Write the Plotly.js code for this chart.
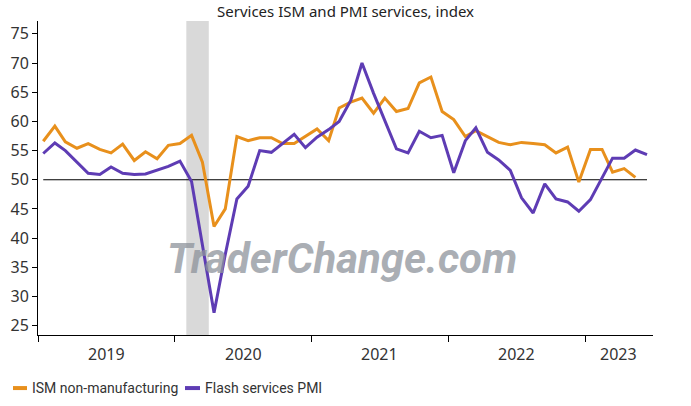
<!DOCTYPE html>
<html>
  <head>
    <title>Services ISM and PMI services</title>
    <meta http-equiv="content-type" content="text/html; charset=utf-8" />
    <style>
      body {
        margin: 0;
        background-color: #FFFFFF;
      }
      #chart {
        width: 691px;
        height: 406px;
      }
    </style>
    <script src="https://cdn.plot.ly/plotly-3.0.1.min.js"></script>
  </head>
  <body>
    <div id="chart"></div>
    <script>
      // monthly observations, Jan 2019 - Jun 2023
      var months = [
        '2019-01','2019-02','2019-03','2019-04','2019-05','2019-06','2019-07','2019-08','2019-09','2019-10','2019-11','2019-12',
        '2020-01','2020-02','2020-03','2020-04','2020-05','2020-06','2020-07','2020-08','2020-09','2020-10','2020-11','2020-12',
        '2021-01','2021-02','2021-03','2021-04','2021-05','2021-06','2021-07','2021-08','2021-09','2021-10','2021-11','2021-12',
        '2022-01','2022-02','2022-03','2022-04','2022-05','2022-06','2022-07','2022-08','2022-09','2022-10','2022-11','2022-12',
        '2023-01','2023-02','2023-03','2023-04','2023-05','2023-06'
      ];

      // ISM non-manufacturing (ends May 2023)
      var ism = [
        56.6, 59.2, 56.5, 55.4, 56.2, 55.2, 54.6, 56.1, 53.3, 54.8, 53.6, 55.9,
        56.2, 57.6, 53.0, 42.0, 45.0, 57.4, 56.7, 57.2, 57.2, 56.2, 56.2, 57.4,
        58.7, 56.7, 62.3, 63.3, 64.0, 61.4, 64.0, 61.7, 62.2, 66.6, 67.6, 61.7,
        60.3, 57.4, 58.4, 57.4, 56.4, 56.0, 56.4, 56.2, 56.0, 54.6, 55.6, 49.6,
        55.2, 55.2, 51.3, 51.9, 50.4
      ];

      // Flash services PMI (ends Jun 2023)
      var pmi = [
        54.5, 56.3, 55.0, 53.1, 51.1, 50.9, 52.2, 51.1, 50.9, 51.0, 51.6, 52.3,
        53.2, 49.7, 38.8, 27.2, 37.2, 46.7, 48.9, 55.0, 54.7, 56.2, 57.8, 55.5,
        57.3, 58.6, 60.0, 63.6, 70.0, 64.8, 60.0, 55.3, 54.6, 58.3, 57.2, 57.6,
        51.2, 56.7, 58.9, 54.7, 53.4, 51.6, 46.9, 44.3, 49.3, 46.7, 46.2, 44.6,
        46.6, 50.2, 53.7, 53.7, 55.1, 54.3
      ];

      var yearTicks = ['2019-01-01', '2020-01-01', '2021-01-01', '2022-01-01', '2023-01-01'];
      var yearLabelPos = ['2019-07-02', '2020-07-02', '2021-07-02', '2022-07-02', '2023-04-01'];
      var yearLabels = ['2019', '2020', '2021', '2022', '2023'];
      var recession = ['2020-02-01', '2020-04-01'];

      var orange = '#E8901C';
      var purple = '#5E3CB4';

      var xIsm = [], xPmi = [], i;
      for (i = 0; i < ism.length; i++) xIsm.push(months[i] + '-15');
      for (i = 0; i < pmi.length; i++) xPmi.push(months[i] + '-15');

      var sets = [
        {
          name: 'ISM non-manufacturing',
          x: xIsm,
          y: ism,
          type: 'scatter',
          mode: 'lines',
          line: {color: orange, width: 3}
        },
        {
          name: 'Flash services PMI',
          x: xPmi,
          y: pmi,
          type: 'scatter',
          mode: 'lines',
          line: {color: purple, width: 3}
        }
      ];

      var tickFont = {family: '"Noto Sans", sans-serif', size: 16, color: '#333333'};
      var legendFont = {family: 'Roboto, sans-serif', size: 14, color: '#333333'};

      var annotations = [
        {
          text: 'ISM non-manufacturing',
          xref: 'paper', yref: 'paper',
          x: -0.013, y: -0.169,
          xanchor: 'left', yanchor: 'middle',
          showarrow: false,
          font: legendFont
        },
        {
          text: 'Flash services PMI',
          xref: 'paper', yref: 'paper',
          x: 0.268, y: -0.169,
          xanchor: 'left', yanchor: 'middle',
          showarrow: false,
          font: legendFont
        },
        {
          text: '<b><i>TraderChange.com</i></b>',
          xref: 'paper', yref: 'paper',
          x: 0.494, y: 0.245,
          xanchor: 'center', yanchor: 'middle',
          showarrow: false,
          opacity: 0.75,
          font: {family: 'Roboto, sans-serif', size: 42, color: '#8E939B'}
        }
      ];
      // year labels centred between the year ticks
      for (i = 0; i < yearLabels.length; i++) {
        annotations.push({
          text: yearLabels[i],
          xref: 'x', yref: 'paper',
          x: yearLabelPos[i], y: -0.06,
          xanchor: 'center', yanchor: 'middle',
          showarrow: false,
          font: tickFont
        });
      }

      var options = {
        width: 691,
        height: 406,
        margin: {l: 38, r: 38, t: 21, b: 71},
        paper_bgcolor: '#FFFFFF',
        plot_bgcolor: '#FFFFFF',
        showlegend: false,
        title: {
          text: 'Services ISM and PMI services, index',
          font: {family: '"Noto Sans", sans-serif', size: 15, color: '#222222'},
          x: 0.5,
          xanchor: 'center',
          y: 0.97,
          yanchor: 'middle'
        },
        xaxis: {
          type: 'date',
          range: ['2019-01-01', '2023-07-01'],
          tickvals: yearTicks,
          showticklabels: false,
          ticks: 'outside',
          ticklen: 6,
          tickcolor: '#000000',
          showline: true,
          linecolor: '#000000',
          linewidth: 1,
          showgrid: false,
          zeroline: false
        },
        yaxis: {
          range: [23.4, 77.2],
          tickvals: [25, 30, 35, 40, 45, 50, 55, 60, 65, 70, 75],
          ticks: 'outside',
          ticklen: 5,
          tickcolor: '#000000',
          tickfont: tickFont,
          showline: true,
          linecolor: '#000000',
          showgrid: false,
          zeroline: false
        },
        yaxis2: {
          overlaying: 'y',
          side: 'right',
          range: [23.4, 77.2],
          tickvals: [25, 30, 35, 40, 45, 50, 55, 60, 65, 70, 75],
          ticks: 'outside',
          ticklen: 5,
          tickcolor: '#000000',
          tickfont: tickFont,
          showline: true,
          linecolor: '#000000',
          showgrid: false,
          zeroline: false
        },
        shapes: [
          {
            type: 'rect',
            xref: 'x',
            yref: 'paper',
            x0: recession[0],
            x1: recession[1],
            y0: 0,
            y1: 1,
            fillcolor: '#D9D9D9',
            line: {width: 0},
            layer: 'below'
          },
          {
            type: 'line',
            xref: 'x',
            yref: 'y',
            x0: xIsm[0],
            x1: xPmi[xPmi.length - 1],
            y0: 50,
            y1: 50,
            line: {color: '#000000', width: 1.2},
            layer: 'below'
          },
          // legend swatches
          {
            type: 'line', xref: 'paper', yref: 'paper',
            x0: -0.0407, x1: -0.0179, y0: -0.169, y1: -0.169,
            line: {color: orange, width: 4}
          },
          {
            type: 'line', xref: 'paper', yref: 'paper',
            x0: 0.239, x1: 0.2634, y0: -0.169, y1: -0.169,
            line: {color: purple, width: 4}
          }
        ],
        annotations: annotations
      };

      Plotly.newPlot('chart', sets, options, {displayModeBar: false, staticPlot: true});
    </script>
  </body>
</html>
